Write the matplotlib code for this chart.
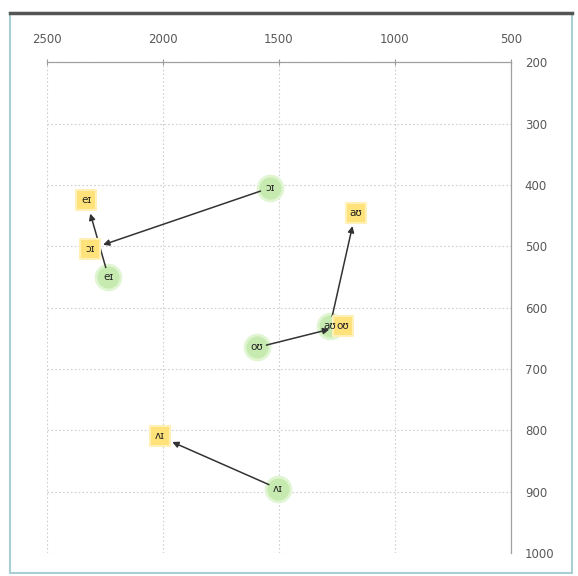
import matplotlib.pyplot as plt
from matplotlib.patches import Rectangle

# ==========================================
# FORMANT DATA (F2, F1 in Hz)
# ==========================================

diphthongs = ["ɔɪ", "eɪ", "aʊ", "oʊ", "ʌɪ"]

start_f2 = [1540, 2235, 1280, 1595, 1505]
start_f1 = [405, 550, 630, 665, 895]

end_f2 = [2315, 2330, 1170, 1225, 2015]
end_f1 = [505, 425, 445, 630, 810]

x_ticks = [2500, 2000, 1500, 1000, 500]
y_ticks = [200, 300, 400, 500, 600, 700, 800, 900, 1000]

# ==========================================
# FIGURE
# ==========================================

fig = plt.figure(figsize=(5.78, 5.76), dpi=100)
ax = fig.add_axes([0.0813, 0.040, 0.8027, 0.852])

ax.set_xlim(2500, 500)
ax.set_ylim(1000, 200)

ax.set_xticks(x_ticks)
ax.set_yticks(y_ticks)

ax.xaxis.tick_top()
ax.yaxis.tick_right()

ax.tick_params(
    axis="both",
    direction="inout",
    length=5,
    width=0.8,
    color="#9a9a9a",
    labelcolor="#595959",
    labelsize=8.5
)
ax.tick_params(axis="x", pad=9)
ax.tick_params(axis="y", pad=10, length=0)

for side in ["left", "bottom"]:
    ax.spines[side].set_visible(False)
for side in ["top", "right"]:
    ax.spines[side].set_color("#a0a0a0")
    ax.spines[side].set_linewidth(0.9)

ax.grid(True, linestyle=(0, (1.5, 2)), color="#cfcfcf", linewidth=0.8)
ax.set_axisbelow(True)

# ==========================================
# ARROWS
# ==========================================

for i in range(len(diphthongs)):
    ax.annotate(
        "",
        xy=(end_f2[i], end_f1[i]),
        xytext=(start_f2[i], start_f1[i]),
        arrowprops=dict(
            arrowstyle="-|>",
            color="#333333",
            lw=1.1,
            mutation_scale=9,
            shrinkA=7,
            shrinkB=10
        ),
        zorder=3
    )

# ==========================================
# MARKERS AND LABELS
# ==========================================

ax.scatter(start_f2, start_f1, s=320, marker="o",
           color="#c6eab0", edgecolors="#e0f5d2", linewidths=2, zorder=2)
ax.scatter(end_f2, end_f1, s=190, marker="s",
           color="#ffe27a", edgecolors="#fff0b8", linewidths=1.5, zorder=4)

for i, name in enumerate(diphthongs):
    ax.text(start_f2[i], start_f1[i], name, fontsize=7.5, color="#222222",
            ha="center", va="center", zorder=5)
    ax.text(end_f2[i], end_f1[i], name, fontsize=7.5, color="#222222",
            ha="center", va="center", zorder=5)

# ==========================================
# CHART FRAME
# ==========================================

fig.patches.append(Rectangle(
    (0.018, 0.006), 0.972, 0.972,
    transform=fig.transFigure, fill=False,
    edgecolor="#a9cfd3", linewidth=1.5
))
fig.lines.append(plt.Line2D(
    [0.018, 0.99], [0.978, 0.978],
    transform=fig.transFigure, color="#555555", linewidth=2.5
))

fig.savefig("out.png", dpi=100)
